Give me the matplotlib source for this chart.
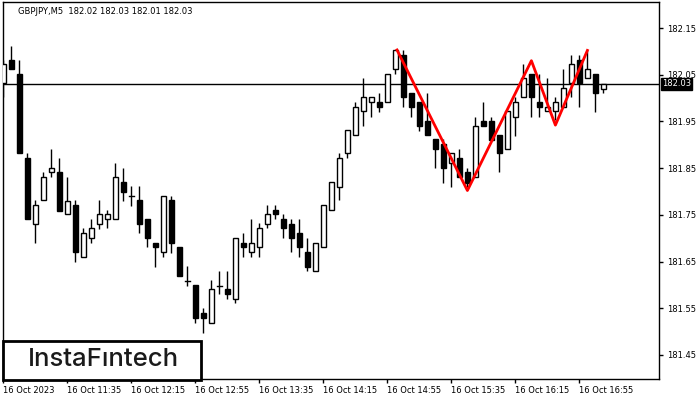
import matplotlib
matplotlib.use("Agg")
import matplotlib.pyplot as plt
from matplotlib.patches import Rectangle

# candle data, 5 min bars starting 16 Oct 10:55
opens = [182.032, 182.081, 182.051, 181.872, 181.730, 181.782, 181.842, 181.842, 181.752, 181.771,
         181.660, 181.700, 181.730, 181.741, 181.741, 181.820, 181.790, 181.782, 181.741, 181.690,
         181.670, 181.782, 181.681, 181.608, 181.600, 181.540, 181.518, 181.598, 181.591, 181.570,
         181.690, 181.670, 181.681, 181.730, 181.760, 181.741, 181.730, 181.711, 181.670, 181.630,
         181.681, 181.760, 181.810, 181.882, 181.921, 181.972, 181.992, 181.992, 181.992, 182.062,
         182.092, 182.011, 181.992, 181.951, 181.912, 181.902, 181.861, 181.872, 181.842, 181.831,
         181.951, 181.951, 181.921, 181.891, 181.959, 182.002, 182.051, 181.992, 181.972, 181.972,
         181.981, 182.032, 182.081, 182.043, 182.051, 182.02]
highs = [182.081, 182.111, 182.081, 181.882, 181.782, 181.842, 181.891, 181.872, 181.831, 181.782,
         181.722, 181.741, 181.782, 181.760, 181.861, 181.850, 181.812, 181.812, 181.741, 181.690,
         181.790, 181.790, 181.681, 181.640, 181.600, 181.550, 181.610, 181.630, 181.630, 181.700,
         181.711, 181.741, 181.732, 181.771, 181.771, 181.752, 181.741, 181.741, 181.700, 181.690,
         181.771, 181.820, 181.882, 181.932, 181.992, 182.043, 182.002, 182.011, 182.051, 182.103,
         182.103, 182.011, 181.992, 182.011, 181.912, 181.912, 181.882, 181.891, 181.850, 181.959,
         181.992, 181.959, 181.921, 181.972, 182.002, 182.073, 182.051, 182.051, 182.043, 182.002,
         182.062, 182.092, 182.092, 182.103, 182.051, 182.03]
lows = [182.002, 182.062, 181.882, 181.741, 181.690, 181.782, 181.831, 181.758, 181.752, 181.649,
        181.660, 181.690, 181.720, 181.722, 181.741, 181.780, 181.769, 181.711, 181.681, 181.638,
        181.660, 181.668, 181.619, 181.598, 181.518, 181.497, 181.518, 181.580, 181.570, 181.561,
        181.660, 181.660, 181.660, 181.722, 181.741, 181.700, 181.670, 181.660, 181.630, 181.630,
        181.681, 181.760, 181.782, 181.872, 181.921, 181.940, 181.959, 181.970, 181.992, 182.051,
        181.981, 181.959, 181.929, 181.921, 181.850, 181.818, 181.810, 181.831, 181.810, 181.831,
        181.940, 181.910, 181.842, 181.891, 181.919, 182.002, 181.959, 181.959, 181.972, 181.953,
        181.981, 182.002, 181.981, 182.043, 181.970, 182.01]
closes = [182.073, 182.062, 181.882, 181.741, 181.771, 181.831, 181.850, 181.758, 181.780, 181.670,
          181.711, 181.722, 181.752, 181.752, 181.831, 181.799, 181.790, 181.730, 181.700, 181.681,
          181.790, 181.690, 181.619, 181.608, 181.529, 181.529, 181.591, 181.598, 181.580, 181.700,
          181.681, 181.690, 181.722, 181.752, 181.752, 181.722, 181.700, 181.681, 181.638, 181.690,
          181.771, 181.820, 181.872, 181.932, 181.981, 182.002, 182.002, 181.981, 182.051, 182.103,
          182.002, 181.981, 181.940, 181.921, 181.891, 181.850, 181.882, 181.831, 181.818, 181.940,
          181.940, 181.910, 181.882, 181.972, 181.992, 182.043, 182.002, 181.981, 181.981, 181.992,
          182.022, 182.073, 182.032, 182.062, 182.011, 182.03]

# triple top pattern line (bar index, price)
pattern_x = [49.2, 58, 66, 69, 73]
pattern_y = [182.103, 181.802, 182.08, 181.942, 182.102]

last_price = 182.03
price_ticks = [181.45, 181.55, 181.65, 181.75, 181.85, 181.95, 182.05, 182.15]
time_ticks = [0, 8, 16, 24, 32, 40, 48, 56, 64, 72]
time_labels = ["16 Oct 2023", "16 Oct 11:35", "16 Oct 12:15", "16 Oct 12:55", "16 Oct 13:35",
               "16 Oct 14:15", "16 Oct 14:55", "16 Oct 15:35", "16 Oct 16:15", "16 Oct 16:55"]
title = "GBPJPY,M5  182.02 182.03 182.01 182.03"

W, H = 700, 400
fig = plt.figure(figsize=(7, 4), dpi=100)
ax = fig.add_axes([3 / W, 1 - 379 / H, 656 / W, 377 / H])

body_w = 0.55
for i, (o, h, l, c) in enumerate(zip(opens, highs, lows, closes)):
    ax.plot([i, i], [l, h], color="black", lw=1, solid_capstyle="butt", zorder=2)
    lo, hi = min(o, c), max(o, c)
    if hi - lo < 0.003:
        ax.plot([i - body_w / 2, i + body_w / 2], [o, o], color="black", lw=1, zorder=3)
    else:
        fc = "white" if c > o else "black"
        ax.add_patch(Rectangle((i - body_w / 2, lo), body_w, hi - lo, facecolor=fc,
                               edgecolor="black", lw=1, zorder=3))

ax.axhline(last_price, color="black", lw=1, zorder=1)
ax.plot(pattern_x, pattern_y, color="#ff0000", lw=2, zorder=5)

ax.set_xlim(-0.05, 656 / 8 - 0.05)
ax.set_ylim(182.15 - 351 / 467, 182.15 + 26 / 467)

ax.yaxis.tick_right()
ax.set_yticks(price_ticks)
ax.set_yticklabels([f"{p:.2f}" for p in price_ticks])
ax.set_xticks(time_ticks)
ax.set_xticklabels(time_labels, ha="left")
ax.tick_params(axis="both", labelsize=6, length=3, width=1, color="black", pad=2)
ax.tick_params(axis="y", pad=3)
for s in ax.spines.values():
    s.set_linewidth(1)

fig.text(18 / W, 1 - 11 / H, title, fontsize=6, va="center", ha="left")

# current price tag
fig.text(662 / W, 1 - 84 / H, f"{last_price:.2f}", fontsize=6, color="white", va="center", ha="left",
         bbox=dict(boxstyle="square,pad=0.15", facecolor="black", edgecolor="black"))

# logo box
fig.patches.append(Rectangle((3 / W, 1 - 380 / H), 198 / W, 39 / H, transform=fig.transFigure,
                             facecolor="white", edgecolor="black", lw=2, zorder=10))
fig.text(103 / W, 1 - 359 / H, "InstaF\u0131ntech", fontsize=18.5, ha="center", va="center",
         color="#1a1a1a", family=["Inter", "DejaVu Sans"], fontweight="medium", zorder=11)

fig.savefig("out.png", dpi=100)
